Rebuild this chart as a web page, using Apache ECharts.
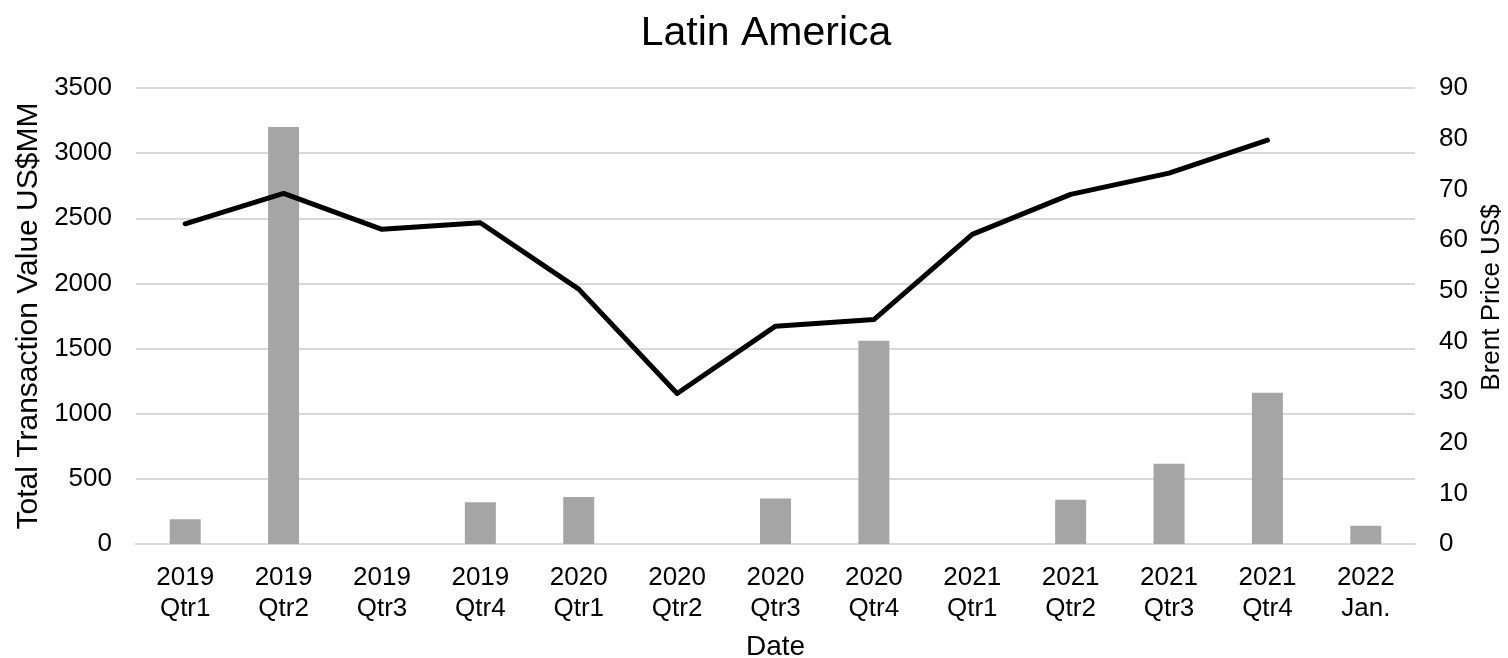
<!DOCTYPE html>
<html>
<head>
<meta charset="utf-8">
<script src="https://cdn.jsdelivr.net/npm/echarts@6/dist/echarts.min.js"></script>
<style>
  html, body { margin: 0; padding: 0; background: #fff; }
  #chart { width: 1508px; height: 658px; }
</style>
</head>
<body>
<div id="chart"></div>
<script>
// Quarterly categories (two-line labels)
const categories = ['2019\nQtr1', '2019\nQtr2', '2019\nQtr3', '2019\nQtr4',
                    '2020\nQtr1', '2020\nQtr2', '2020\nQtr3', '2020\nQtr4',
                    '2021\nQtr1', '2021\nQtr2', '2021\nQtr3', '2021\nQtr4',
                    '2022\nJan.'];
// Total transaction value, US$MM
const transactionValue = [190, 3200, 0, 320, 360, 0, 350, 1560, 0, 340, 615, 1160, 140];
// Brent price, US$
const brentPrice = [63.2, 69.2, 62.1, 63.4, 50.3, 29.7, 43.0, 44.3, 61.1, 69.0, 73.2, 79.7, null];

const FONT = '"Liberation Sans", Arial, sans-serif';
const plain = v => String(v);
const chart = echarts.init(document.getElementById('chart'));
chart.setOption({
  animation: false,
  textStyle: { fontFamily: FONT, color: '#000' },
  title: {
    text: 'Latin America',
    left: 761,
    textAlign: 'center',
    top: 8,
    textStyle: { fontFamily: FONT, fontSize: 41, fontWeight: 'normal', color: '#000' }
  },
  grid: { left: 136, right: 93, top: 88, bottom: 114, containLabel: false, outerBoundsMode: 'none' },
  xAxis: {
    type: 'category',
    data: categories,
    name: 'Date',
    nameLocation: 'middle',
    nameGap: 89,
    nameTextStyle: { fontFamily: FONT, fontSize: 28, color: '#000' },
    axisLine: { show: true, lineStyle: { color: '#d9d9d9', width: 2 } },
    axisTick: { show: false },
    axisLabel: { fontFamily: FONT, fontSize: 26, color: '#000', lineHeight: 31, margin: 18, interval: 0 }
  },
  yAxis: [
    {
      type: 'value',
      min: 0, max: 3500, interval: 500,
      name: 'Total Transaction Value US$MM',
      nameLocation: 'middle',
      nameGap: 92,
      nameTextStyle: { fontFamily: FONT, fontSize: 30, color: '#000' },
      axisLine: { show: false },
      axisTick: { show: false },
      axisLabel: { fontFamily: FONT, fontSize: 26, color: '#000', margin: 24, formatter: plain },
      splitLine: { lineStyle: { color: '#d9d9d9', width: 2 } }
    },
    {
      type: 'value',
      min: 0, max: 90, interval: 10,
      name: 'Brent Price US$',
      nameLocation: 'middle',
      nameGap: 62,
      nameRotate: 90,
      nameTextStyle: { fontFamily: FONT, fontSize: 26, color: '#000', padding: [0, 0, 0, 37] },
      axisLine: { show: false },
      axisTick: { show: false },
      axisLabel: { fontFamily: FONT, fontSize: 26, color: '#000', margin: 24, formatter: plain },
      splitLine: { show: false }
    }
  ],
  series: [
    {
      type: 'bar',
      yAxisIndex: 0,
      data: transactionValue,
      barWidth: '31.5%',
      itemStyle: { color: '#a5a5a5' }
    },
    {
      type: 'line',
      yAxisIndex: 1,
      data: brentPrice,
      symbol: 'none',
      connectNulls: false,
      lineStyle: { color: '#000', width: 5, cap: 'round', join: 'round' }
    }
  ]
});
</script>
</body>
</html>
